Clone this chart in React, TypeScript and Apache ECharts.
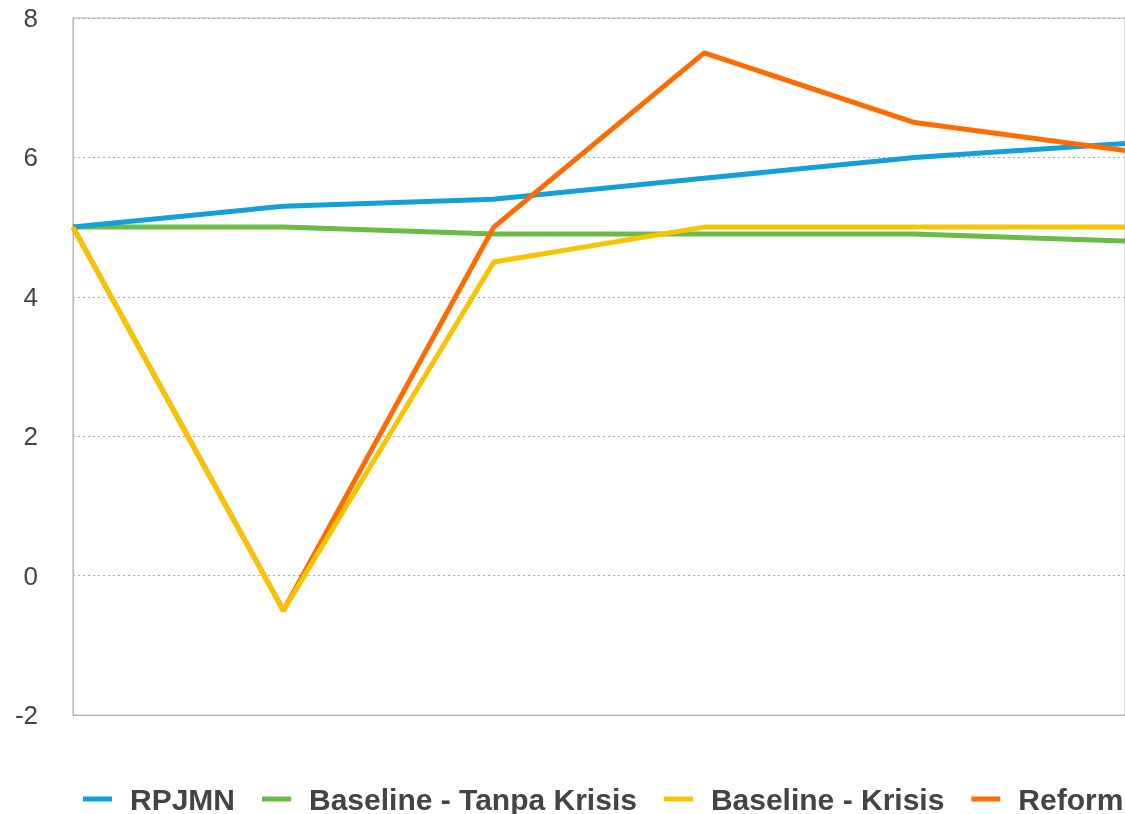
import React, { useEffect, useRef } from "react";
import * as echarts from "echarts";

const categories = ["2019", "2020", "2021", "2022", "2023", "2024"];
const rpjmn = [5.0, 5.3, 5.4, 5.7, 6.0, 6.2];
const tanpaKrisis = [5.0, 5.0, 4.9, 4.9, 4.9, 4.8];
const krisis = [5.0, -0.5, 4.5, 5.0, 5.0, 5.0];
const reform = [5.0, -0.5, 5.0, 7.5, 6.5, 6.1];
const seriesNames = ["RPJMN", "Baseline - Tanpa Krisis", "Baseline - Krisis", "Reform"];
const colors = ["#12A1D6", "#6CBB45", "#F8C300", "#FF6B00"];

export default function App() {
  const ref = useRef<HTMLDivElement>(null);
  useEffect(() => {
    if (!ref.current) return;
    const chart = echarts.init(ref.current, undefined, { renderer: "svg" });
    const data = [rpjmn, tanpaKrisis, krisis, reform];
    const zs = [3, 2, 5, 4];
    chart.setOption({
      animation: false,
      color: colors,
      grid: {
        left: 73,
        top: 18,
        bottom: 99,
        right: -3,
        show: true,
        borderColor: "#b5b5b5",
        borderWidth: 1,
      },
      legend: {
        left: 83,
        top: 784,
        width: 1400,
        padding: 0,
        itemWidth: 29,
        itemHeight: 5,
        itemGap: 27,
        icon: "rect",
        data: seriesNames,
        textStyle: {
          fontFamily: "Liberation Sans",
          fontWeight: "bold",
          fontSize: 30,
          color: "#444444",
          lineHeight: 30,
          padding: [0, 0, 0, 13],
        },
      },
      xAxis: {
        type: "category",
        data: categories,
        boundaryGap: false,
        axisLine: { show: true, onZero: false, lineStyle: { color: "#b5b5b5" } },
        axisTick: { show: false },
        axisLabel: { show: false },
        splitLine: { show: false },
      },
      yAxis: {
        type: "value",
        min: -2,
        max: 8,
        interval: 2,
        axisLine: { show: true, lineStyle: { color: "#b5b5b5" } },
        axisTick: { show: false },
        axisLabel: {
          margin: 35,
          fontFamily: "Liberation Sans",
          fontSize: 26,
          color: "#444444",
        },
        splitLine: { show: true, lineStyle: { color: "#aaaaaa", width: 1, type: [2, 3] } },
      },
      series: seriesNames.map((name, i) => ({
        name,
        type: "line",
        data: data[i],
        z: zs[i],
        symbol: "none",
        lineStyle: { width: 5, color: colors[i] },
        itemStyle: { color: colors[i] },
      })),
    });
    return () => chart.dispose();
  }, []);
  return (
    <div
      ref={ref}
      style={{ position: "fixed", left: 0, top: 0, width: 1125, height: 814 }}
    />
  );
}
